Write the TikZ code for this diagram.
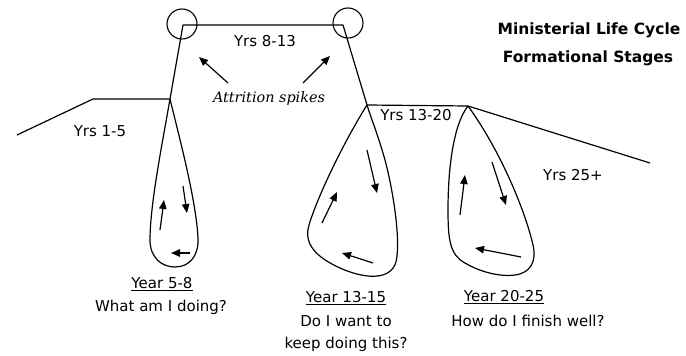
\documentclass[tikz,border=0pt]{standalone}
\usepackage{fontspec}
\setmainfont{DejaVu Sans}
\newfontfamily\attrfont{DejaVu Serif}
\usetikzlibrary{arrows.meta}
\tikzset{
  curve/.style={line width=1.2pt, line join=round},
  arr/.style={line width=1.2pt, -{Triangle[length=9pt,width=7.5pt]}},
  lbl/.style={inner sep=0pt, font=\fontsize{15}{18}\selectfont},
  ttl/.style={inner sep=0pt, font=\fontsize{15.5}{18}\selectfont\bfseries},
  attr/.style={inner sep=0pt, font=\attrfont\itshape\fontsize{14.4}{17}\selectfont},
}
\begin{document}
\begin{tikzpicture}[x=1pt,y=-1pt]
\useasboundingbox (0,0) rectangle (686,356);
% main path coordinates
\coordinate (p0) at (17,135);
\coordinate (p1) at (93,99);
\coordinate (v1) at (170,99);
\coordinate (t1) at (183,25);
\coordinate (t2) at (343,25);
\coordinate (v2) at (367,105);
\coordinate (v3) at (468,106);
\coordinate (p9) at (650,163);
\draw[curve] (p0) -- (p1) -- (v1) -- (t1) -- (t2) -- (v2) -- (v3) -- (p9);
% circles
\node[draw, circle, line width=1.1pt, minimum size=30pt, inner sep=0pt] (c1) at (182,24) {};
\node[draw, circle, line width=1.1pt, minimum size=30pt, inner sep=0pt] (c2) at (348,23) {};
% loop 1
\draw[curve] (v1) .. controls (162,145) and (150,205) .. (150,240)
  .. controls (150,258) and (162,267) .. (175,267)
  .. controls (190,267) and (199,255) .. (198,238)
  .. controls (196,200) and (180,140) .. (v1);
% loop 2
\draw[curve] (v2) .. controls (345,140) and (318,195) .. (309,225)
  .. controls (303,245) and (318,258) .. (340,268)
  .. controls (362,278) and (390,282) .. (396,262)
  .. controls (401,240) and (393,190) .. (385,160)
  .. controls (378,135) and (371,118) .. (v2);
% loop 3
\draw[curve] (v3) .. controls (453,125) and (448,170) .. (448,210)
  .. controls (448,240) and (450,255) .. (465,263)
  .. controls (480,272) and (500,277) .. (515,275)
  .. controls (530,273) and (537,262) .. (533,245)
  .. controls (525,210) and (500,150) .. (v3);
% loop arrows
\coordinate (a1s) at (160,230); \coordinate (a1e) at (164,200);
\coordinate (a2s) at (183,186); \coordinate (a2e) at (187,213);
\coordinate (a3s) at (190,253); \coordinate (a3e) at (171,253);
\draw[arr] (a1s) -- (a1e);
\draw[arr] (a2s) -- (a2e);
\draw[arr] (a3s) -- (a3e);
\coordinate (b1s) at (367,150); \coordinate (b1e) at (377,193);
\coordinate (b2s) at (322,223); \coordinate (b2e) at (337,192);
\coordinate (b3s) at (373,263); \coordinate (b3e) at (342,253);
\draw[arr] (b1s) -- (b1e);
\draw[arr] (b2s) -- (b2e);
\draw[arr] (b3s) -- (b3e);
\coordinate (d1s) at (460,215); \coordinate (d1e) at (465,175);
\coordinate (d2s) at (492,162); \coordinate (d2e) at (506,205);
\coordinate (d3s) at (521,257); \coordinate (d3e) at (475,248);
\draw[arr] (d1s) -- (d1e);
\draw[arr] (d2s) -- (d2e);
\draw[arr] (d3s) -- (d3e);
% labels
\node[lbl] (y15) at (100,131) {Yrs 1-5};
\node[lbl] (y813) at (265,41) {Yrs 8-13};
\node[attr] (attr) at (269,99) {Attrition spikes};
\coordinate (s1) at (228,83); \coordinate (s2) at (303,83);
\coordinate (e1) at (199,57); \coordinate (e2) at (330,56);
\draw[arr] (s1) -- (e1);
\draw[arr] (s2) -- (e2);
\node[ttl] (title1) at (589,30) {Ministerial Life Cycle};
\node[ttl] (title2) at (588,58) {Formational Stages};
\node[lbl] (y1320) at (416,115) {Yrs 13-20};
\node[lbl] (y25) at (573,175) {Yrs 25+};
\node[lbl] (n58) at (162,284) {\underline{Year 5-8}};
\node[lbl] (q58) at (161,307) {What am I doing?};
\node[lbl] (n1315) at (346,298) {\underline{Year 13-15}};
\node[lbl] (q1315a) at (346,321) {Do I want to};
\node[lbl] (q1315b) at (346,344) {keep doing this?};
\node[lbl] (n2025) at (504,297) {\underline{Year 20-25}};
\node[lbl] (q2025) at (528,321) {How do I finish well?};
\end{tikzpicture}
\end{document}
